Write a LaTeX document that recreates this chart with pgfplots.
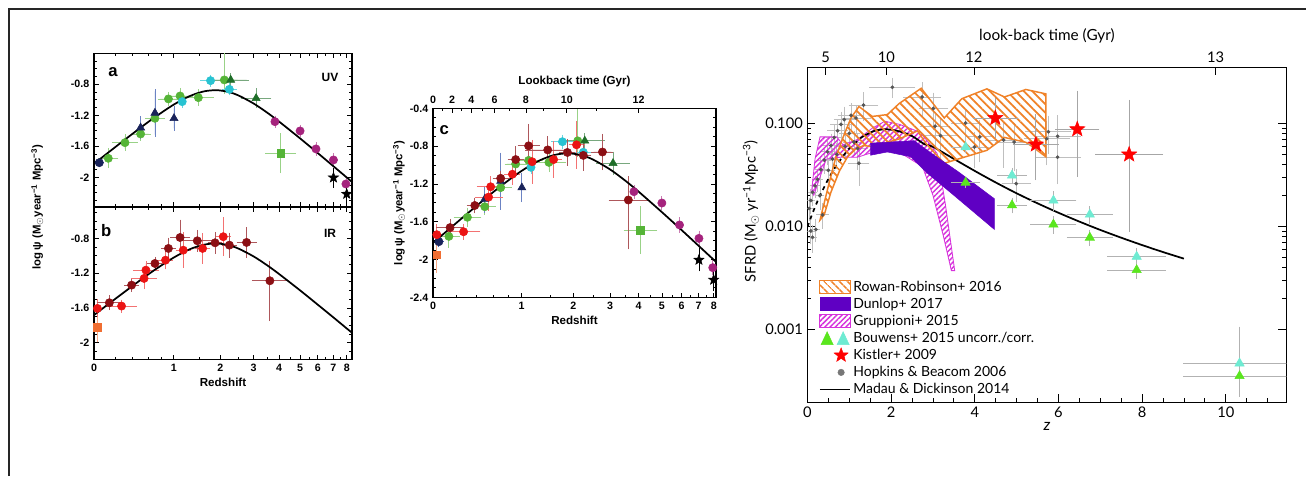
\documentclass[border=0pt]{standalone}
\usepackage{pgfplots}
\pgfplotsset{compat=1.18}
\usepackage{fontspec}
\setmainfont{Liberation Sans}
\newfontfamily\lato{Lato}
\usetikzlibrary{patterns.meta}

\definecolor{uvgreen}{RGB}{85,180,55}
\definecolor{uvcyan}{RGB}{40,195,210}
\definecolor{uvnavy}{RGB}{25,35,90}
\definecolor{uvblue}{RGB}{70,100,180}
\definecolor{uvdgreen}{RGB}{30,110,40}
\definecolor{uvmag}{RGB}{165,35,125}
\definecolor{irred}{RGB}{235,20,20}
\definecolor{irdred}{RGB}{140,15,20}
\definecolor{irorange}{RGB}{240,110,50}
\definecolor{rrorange}{RGB}{240,130,40}
\definecolor{dpurple}{RGB}{95,0,195}
\definecolor{gmag}{RGB}{215,50,220}
\definecolor{bgreen}{RGB}{90,230,30}
\definecolor{bcyan}{RGB}{110,235,210}
\definecolor{hbgray}{RGB}{85,85,85}

\pgfdeclareplotmark{fstar}{%
 \pgfpathmoveto{\pgfpointpolar{90}{\pgfplotmarksize}}%
 \pgfpathlineto{\pgfpointpolar{126}{0.42\pgfplotmarksize}}%
 \pgfpathlineto{\pgfpointpolar{162}{\pgfplotmarksize}}%
 \pgfpathlineto{\pgfpointpolar{198}{0.42\pgfplotmarksize}}%
 \pgfpathlineto{\pgfpointpolar{234}{\pgfplotmarksize}}%
 \pgfpathlineto{\pgfpointpolar{270}{0.42\pgfplotmarksize}}%
 \pgfpathlineto{\pgfpointpolar{306}{\pgfplotmarksize}}%
 \pgfpathlineto{\pgfpointpolar{342}{0.42\pgfplotmarksize}}%
 \pgfpathlineto{\pgfpointpolar{18}{\pgfplotmarksize}}%
 \pgfpathlineto{\pgfpointpolar{54}{0.42\pgfplotmarksize}}%
 \pgfpathclose\pgfusepathqfillstroke}

\pgfplotsset{
  eb/.style={error bars/x dir=both, error bars/x explicit, error bars/y dir=both, error bars/y explicit,
     error bars/error bar style={#1, line width=0.6pt},
     error bars/error mark options={#1, mark size=1.6pt, line width=0.6pt}},
  lp/.style={scale only axis, xmin=0, axis line style={line width=0.8pt},
    tick align=inside, major tick length=3.5pt, minor tick length=2pt,
    tick style={line width=0.6pt, black},
    xtick={0,0.30103,0.47712,0.60206,0.69897,0.77815,0.84510,0.90309,0.95424},
    minor xtick={0.0792,0.1461,0.2041,0.2553,0.3979,0.5441,0.6532,0.7404,0.8129,0.8751,0.9294},
    ytick={-2.4,-2,-1.6,-1.2,-0.8,-0.4},
    minor ytick={-2.3,-2.2,-2.1,-1.9,-1.8,-1.7,-1.5,-1.4,-1.3,-1.1,-1.0,-0.9,-0.7,-0.6,-0.5},
    ticklabel style={font=\bfseries\fontsize{8}{9.5}\selectfont},
    every axis plot/.append style={forget plot}},
  circ/.style={only marks, mark=*, mark size=3.1pt, draw=#1, fill=#1},
  tri/.style={only marks, mark=triangle*, mark size=3.5pt, draw=#1, fill=#1},
  sq/.style={only marks, mark=square*, mark size=2.8pt, draw=#1, fill=#1},
  mdcurve/.style={black, line width=1.3pt, smooth, no marks},
}

\newcommand\uvdata{%
\addplot[circ=uvgreen, eb=uvgreen!60] coordinates {(0.054,-1.755) +- (0.03,0.10) (0.117,-1.553) +- (0.04,0.08) (0.176,-1.441) +- (0.03,0.06) (0.230,-1.239) +- (0.03,0.08) (0.281,-0.989) +- (0.03,0.06) (0.325,-0.951) +- (0.04,0.07) (0.394,-0.972) +- (0.05,0.08) (0.492,-0.744) += (0.05,0.42) -= (0.05,0.15)};
\addplot[sq=uvgreen, eb=uvgreen!60] coordinates {(0.705,-1.690) +- (0.05,0.23)};
\addplot[tri=uvnavy, eb=uvblue!80] coordinates {(0.302,-1.239) +- (0,0.13) (0.230,-1.17) +- (0,0.28) (0.176,-1.36) +- (0,0.12)};
\addplot[circ=uvnavy, eb=uvblue] coordinates {(0.020,-1.811) +- (0.01,0.03)};
\addplot[circ=uvcyan, eb=uvcyan!70] coordinates {(0.333,-1.024) +- (0,0.05) (0.440,-0.753) +- (0.03,0.05) (0.511,-0.865) +- (0.02,0.05)};
\addplot[tri=uvdgreen, eb=uvdgreen!60] coordinates {(0.516,-0.744) +- (0.06,0.06) (0.612,-0.981) +- (0.05,0.10)};
\addplot[circ=uvmag, eb=uvmag!60] coordinates {(0.683,-1.282) +- (0,0.05) (0.778,-1.402) +- (0,0.05) (0.838,-1.634) +- (0,0.06) (0.904,-1.776) +- (0,0.06) (0.951,-2.086) +- (0,0.06)};
\addplot[only marks, mark=fstar, mark size=4pt, black, eb=black] coordinates {(0.904,-2.004) +- (0,0.10) (0.954,-2.215) +- (0,0.10)};
}

\begin{document}
\begin{tikzpicture}
\useasboundingbox (0,0) rectangle (979.5pt,357pt);
\fill[white] (0,0) rectangle (979.5pt,357pt);
\draw[black!85, line width=1.5pt] (6.75pt,0pt) -- (6.75pt,350.25pt) -- (979.5pt,350.25pt);

% ---------- panel a (UV)
\begin{axis}[lp, at={(70.5pt,201.75pt)}, anchor=south west, width=193.5pt, height=115.3pt,
  xmax=0.974, ymin=-2.383, ymax=-0.4, xticklabels={},
  yticklabels={,-2,-1.6,-1.2,-0.8,},
  ylabel={\bfseries log\,ψ (M\textsubscript{$\odot$}year\textsuperscript{−1} Mpc\textsuperscript{−3})},
  every axis y label/.style={at={(axis description cs:-0.22,0)}, rotate=90, anchor=center, font=\bfseries\fontsize{8.5}{10}\selectfont}]
\uvdata
\addplot[mdcurve] coordinates {(0,-1.825) (0.04139,-1.714) (0.07918,-1.6132) (0.11394,-1.5211) (0.17609,-1.3592) (0.23045,-1.2230) (0.30103,-1.0622) (0.36173,-0.9521) (0.41497,-0.8918) (0.46240,-0.8764) (0.50515,-0.8970) (0.54407,-0.9423) (0.60206,-1.0469) (0.65321,-1.1644) (0.69897,-1.2817) (0.77815,-1.4985) (0.84510,-1.6882) (0.90309,-1.8550) (0.95424,-2.0026) (0.97313,-2.0571)};
\node[font=\bfseries\fontsize{12.5}{14}\selectfont] at (rel axis cs:0.074,0.878) {a};
\node[font=\bfseries\fontsize{9}{10}\selectfont] at (rel axis cs:0.915,0.84) {UV};
\end{axis}

% ---------- panel b (IR)
\begin{axis}[lp, at={(70.5pt,87.5pt)}, anchor=south west, width=193.5pt, height=114.2pt,
  xmax=0.974, ymin=-2.191, ymax=-0.439,
  xticklabels={0,1,2,3,4,5,6,7,8},
  yticklabels={,-2,-1.6,-1.2,-0.8,},
  xlabel={Redshift}, xlabel style={font=\bfseries\fontsize{8.7}{10}\selectfont, yshift=2pt}]
\addplot[sq=irorange, eb=irorange!60] coordinates {(0.013,-1.82) +- (0,0.15)};
\addplot[circ=irred, eb=irred!60] coordinates {(0.013,-1.605) +- (0.01,0.08) (0.104,-1.578) +- (0.05,0.05) (0.189,-1.26) +- (0.04,0.10) (0.196,-1.165) +- (0.04,0.08) (0.27,-1.05) +- (0.02,0.08) (0.337,-0.935) +- (0.02,0.18) (0.41,-0.915) +- (0.02,0.15) (0.488,-0.78) +- (0.02,0.20)};
\addplot[circ=irdred, eb=irdred!70] coordinates {(0.058,-1.54) +- (0.04,0.06) (0.142,-1.337) +- (0.02,0.05) (0.23,-1.088) +- (0.02,0.05) (0.281,-0.915) +- (0.02,0.10) (0.325,-0.789) +- (0.03,0.18) (0.39,-0.827) +- (0.07,0.10) (0.457,-0.85) +- (0.02,0.10) (0.511,-0.877) +- (0.02,0.12) (0.576,-0.846) +- (0.03,0.15) (0.664,-1.287) += (0.06,0.20) -= (0.06,0.44)};
\addplot[mdcurve] coordinates {(0,-1.682) (0.04139,-1.585) (0.07918,-1.498) (0.11394,-1.418) (0.17609,-1.277) (0.23045,-1.159) (0.30103,-1.020) (0.36173,-0.924) (0.41497,-0.872) (0.46240,-0.858) (0.50515,-0.876) (0.54407,-0.915) (0.60206,-1.006) (0.65321,-1.108) (0.69897,-1.210) (0.77815,-1.398) (0.84510,-1.563) (0.90309,-1.707) (0.95424,-1.836) (0.97313,-1.883)};
\node[font=\bfseries\fontsize{12.5}{14}\selectfont] at (rel axis cs:0.047,0.849) {b};
\node[font=\bfseries\fontsize{9}{10}\selectfont] at (rel axis cs:0.915,0.83) {IR};
\end{axis}

% ---------- panel c (UV+IR)
\begin{axis}[lp, at={(324.75pt,134.0pt)}, anchor=south west, width=212.25pt, height=141.75pt,
  xmax=0.962, ymin=-2.4, ymax=-0.4, xtick pos=bottom,
  xticklabels={0,1,2,3,4,5,6,7,8},
  yticklabels={-2.4,-2,-1.6,-1.2,-0.8,-0.4},
  xlabel={Redshift}, xlabel style={font=\bfseries\fontsize{8.7}{10}\selectfont, yshift=2pt},
  ylabel={\bfseries log\,ψ (M\textsubscript{$\odot$}year\textsuperscript{−1} Mpc\textsuperscript{−3})},
  every axis y label/.style={at={(axis description cs:-0.12,0.5)}, rotate=90, anchor=center, font=\bfseries\fontsize{8.5}{10}\selectfont}]
\addplot[sq=irorange, eb=irorange!60] coordinates {(0.013,-1.95) +- (0,0.17)};
\uvdata
\addplot[circ=irred, eb=irred!60] coordinates {(0.013,-1.737) +- (0.01,0.09) (0.104,-1.706) +- (0.05,0.06) (0.189,-1.339) +- (0.04,0.12) (0.196,-1.230) +- (0.04,0.09) (0.27,-1.097) +- (0.02,0.09) (0.337,-0.965) +- (0.02,0.21) (0.41,-0.942) +- (0.02,0.17) (0.488,-0.786) +- (0.02,0.23)};
\addplot[circ=irdred, eb=irdred!70] coordinates {(0.058,-1.662) +- (0.04,0.07) (0.142,-1.428) +- (0.02,0.06) (0.23,-1.141) +- (0.02,0.06) (0.281,-0.942) +- (0.02,0.12) (0.325,-0.797) +- (0.03,0.21) (0.39,-0.840) +- (0.07,0.12) (0.457,-0.867) +- (0.02,0.12) (0.511,-0.898) +- (0.02,0.14) (0.576,-0.862) +- (0.03,0.17) (0.664,-1.37) += (0.06,0.23) -= (0.06,0.50)};
\addplot[mdcurve] coordinates {(0,-1.825) (0.04139,-1.714) (0.07918,-1.6132) (0.11394,-1.5211) (0.17609,-1.3592) (0.23045,-1.2230) (0.30103,-1.0622) (0.36173,-0.9521) (0.41497,-0.8918) (0.46240,-0.8764) (0.50515,-0.8970) (0.54407,-0.9423) (0.60206,-1.0469) (0.65321,-1.1644) (0.69897,-1.2817) (0.77815,-1.4985) (0.84510,-1.6882) (0.90309,-1.8550) (0.95424,-2.0026) (0.97313,-2.0571)};
\node[font=\bfseries\fontsize{12.5}{14}\selectfont] at (rel axis cs:0.04,0.885) {c};
\end{axis}
\begin{axis}[scale only axis, at={(324.75pt,134.0pt)}, anchor=south west, width=212.25pt, height=141.75pt,
  xmin=0, xmax=0.962, ymin=0, ymax=1, axis y line=none, axis x line*=top,
  axis line style={line width=0.8pt}, tick align=inside, major tick length=3.5pt, minor tick length=2pt,
  tick style={line width=0.6pt, black},
  xtick={0,0.0645,0.130,0.2095,0.316,0.4548,0.699}, xticklabels={0,2,4,6,8,10,12},
  minor xtick={0.0314,0.097,0.167,0.260,0.375,0.556},
  ticklabel style={font=\bfseries\fontsize{8}{9.5}\selectfont},
  xlabel={Lookback time (Gyr)}, xlabel style={font=\bfseries\fontsize{8.7}{10}\selectfont}]
\end{axis}

% ---------- right panel
\begin{axis}[scale only axis, at={(605.6pt,55.3pt)}, anchor=south west, width=359.2pt, height=251.25pt,
  xmin=0, xmax=11.45, ymode=log, ymin=1.94e-4, ymax=0.352,
  axis line style={line width=0.8pt}, tick align=inside, major tick length=6pt, minor tick length=3pt,
  tick style={line width=0.6pt, black}, xtick pos=bottom,
  xtick={0,2,4,6,8,10}, xticklabels={0,2,4,6,8,10}, minor xtick={0.5,1,...,11},
  ytick={0.001,0.01,0.1}, yticklabels={0.001,0.010,0.100},
  ticklabel style={font=\lato\fontsize{11}{13}\selectfont},
  xlabel={\textit{z}}, xlabel style={font=\lato\fontsize{12}{13}\selectfont, yshift=3pt},
  ylabel={SFRD (M\textsubscript{$\odot$} yr\textsuperscript{−1}Mpc\textsuperscript{−3})},
  every axis y label/.style={at={(axis description cs:-0.118,0.57)}, rotate=90, anchor=center, font=\lato\fontsize{11}{13}\selectfont},
  legend style={at={(rel axis cs:0.015,0.005)}, anchor=south west, draw=none, fill=none,
     font=\lato\fontsize{10.5}{12}\selectfont, row sep=0.6pt, nodes={inner sep=1.5pt}},
  legend cell align=left]
\addlegendimage{legend image code/.code={\draw[draw=rrorange, line width=0.8pt, pattern={Lines[angle=-45,distance=4pt,line width=1.3pt]}, pattern color=rrorange] (0pt,-4.8pt) rectangle (23pt,4.8pt);}}
\addlegendentry{Rowan-Robinson+ 2016}
\addlegendimage{legend image code/.code={\fill[dpurple] (0pt,-4.8pt) rectangle (23pt,4.8pt);}}
\addlegendentry{Dunlop+ 2017}
\addlegendimage{legend image code/.code={\draw[draw=gmag, line width=0.6pt, pattern={Lines[angle=45,distance=2.8pt,line width=1.1pt]}, pattern color=gmag] (0pt,-4.8pt) rectangle (23pt,4.8pt);}}
\addlegendentry{Gruppioni+ 2015}
\addlegendimage{legend image code/.code={\fill[bgreen] (1pt,-4.8pt) -- (10pt,-4.8pt) -- (5.5pt,4.8pt) -- cycle; \fill[bcyan] (13pt,-4.8pt) -- (22pt,-4.8pt) -- (17.5pt,4.8pt) -- cycle;}}
\addlegendentry{Bouwens+ 2015 uncorr./corr.}
\addlegendimage{legend image code/.code={\draw[red, fill=red] plot[mark=fstar, mark size=5.5pt] coordinates {(16pt,0pt)};}}
\addlegendentry{Kistler+ 2009}
\addlegendimage{legend image code/.code={\fill[hbgray!80] (16pt,0pt) circle (2.4pt);}}
\addlegendentry{Hopkins \& Beacom 2006}
\addlegendimage{legend image code/.code={\draw[black, line width=1.3pt] (0pt,0pt) -- (23pt,0pt);}}
\addlegendentry{Madau \& Dickinson 2014}

% Hopkins & Beacom points
\addplot[forget plot, only marks, mark=*, mark size=1.2pt, hbgray, eb={gray!50}] coordinates {
(0.04,0.0149) +- (0.03,0.003) (0.08,0.0178) +- (0.04,0.004) (0.08,0.0090) +- (0.04,0.002) (0.12,0.0078) +- (0.05,0.002)
(0.12,0.0214) +- (0.05,0.005) (0.18,0.0247) +- (0.06,0.005) (0.20,0.0093) +- (0.06,0.002) (0.24,0.0286) +- (0.08,0.006)
(0.32,0.0355) +- (0.1,0.008) (0.36,0.0129) +- (0.1,0.003) (0.40,0.044) +- (0.1,0.01) (0.48,0.053) +- (0.1,0.012)
(0.56,0.061) +- (0.15,0.015) (0.64,0.073) +- (0.15,0.02) (0.72,0.085) +- (0.2,0.02) (0.80,0.098) +- (0.2,0.025)
(0.88,0.109) +- (0.2,0.03) (1.04,0.120) +- (0.25,0.03) (1.11,0.066) +- (0.2,0.015) (1.16,0.113) +- (0.3,0.03)
(1.2,0.057) +- (0.2,0.02) (1.23,0.041) +- (0.2,0.015) (1.34,0.151) +- (0.3,0.04) (2.03,0.225) +- (0.5,0.04)
(2.74,0.181) +- (0.4,0.06) (3.01,0.140) +- (0.3,0.05) (3.05,0.094) +- (0.3,0.03) (3.18,0.076) +- (0.4,0.03)
(3.78,0.101) +- (0.3,0.03) (3.99,0.059) +- (0.3,0.02) (4.12,0.074) +- (0.3,0.03) (4.69,0.069) +- (0.4,0.03)
(4.94,0.066) +- (0.4,0.03) (4.99,0.026) +- (0.3,0.008) (5.72,0.071) +- (0.5,0.03) (5.76,0.083) +- (0.5,0.03)
(5.98,0.075) +- (0.5,0.04) (5.98,0.047) +- (0.5,0.02) (0.5,0.035) +- (0.1,0.008) (0.6,0.045) +- (0.1,0.01)
(0.7,0.05) +- (0.1,0.012) (0.9,0.06) +- (0.15,0.015) (1.0,0.08) +- (0.2,0.02) (0.3,0.02) +- (0.05,0.005)};
% Gruppioni
\addplot[forget plot, draw=gmag, line width=0.6pt, pattern={Lines[angle=45,distance=2.8pt,line width=1.1pt]}, pattern color=gmag] coordinates {
(0.10,0.022) (0.18,0.045) (0.30,0.074) (0.70,0.074) (0.85,0.062) (1.2,0.07) (1.55,0.09) (1.85,0.105) (2.2,0.098) (2.7,0.082) (3.1,0.051) (3.3,0.016) (3.52,0.0037) (3.44,0.0037) (3.25,0.008) (3.0,0.02) (2.75,0.038) (2.39,0.047) (2.0,0.058) (1.6,0.053) (1.2,0.047) (0.8,0.047) (0.45,0.045) (0.3,0.03) (0.15,0.02)} -- cycle;
% Madau & Dickinson
\addplot[forget plot, black, line width=1.3pt, dashed, smooth, no marks] coordinates {(0,0.00987) (0.1,0.01274) (0.2,0.01608) (0.3,0.01988) (0.5,0.02886) (0.7,0.03947) (1.0,0.05722) (1.3,0.07372)};
\addplot[forget plot, black, line width=1.3pt, smooth, no marks] coordinates {(1.3,0.07372) (1.6,0.08468) (1.9,0.08771) (2.2,0.08369) (2.5,0.07537) (2.8,0.06274) (3.0,0.05927) (3.5,0.04521) (4.0,0.03452) (4.5,0.02667) (5.0,0.02092) (5.5,0.01671) (6.0,0.01353) (6.5,0.01110) (7.0,0.00921) (7.5,0.00774) (8.0,0.00656) (8.5,0.00561) (9.0,0.00484)};
% Rowan-Robinson
\addplot[forget plot, draw=rrorange, line width=1.1pt, pattern={Lines[angle=-45,distance=4.5pt,line width=1.3pt]}, pattern color=rrorange] coordinates {
(0.30,0.0115) (0.50,0.0247) (0.68,0.0474) (0.88,0.0787) (1.04,0.113) (1.23,0.146) (1.55,0.117) (1.91,0.122) (2.19,0.156) (2.72,0.220) (3.27,0.113) (3.69,0.174) (4.29,0.217) (4.71,0.181) (5.22,0.214) (5.70,0.194) (5.70,0.0474) (5.39,0.0589) (5.22,0.0656) (4.71,0.0731) (4.29,0.0548) (3.27,0.041) (2.84,0.0634) (2.63,0.0846) (2.19,0.0706) (1.91,0.0656) (1.59,0.0589) (1.35,0.061) (1.16,0.0569) (0.96,0.0474) (0.76,0.0342) (0.56,0.0214) (0.40,0.0129)} -- cycle;
% Dunlop
\addplot[forget plot, fill=dpurple, draw=dpurple] coordinates {
(1.51,0.0491) (1.51,0.0643) (2.55,0.068) (3.0,0.05) (3.6,0.034) (4.47,0.0185) (4.47,0.0093) (3.6,0.0185) (2.86,0.033) (2.47,0.0474) (1.91,0.0528)} -- cycle;
% Bouwens
\addplot[forget plot, only marks, mark=triangle*, mark size=4pt, bcyan, eb={gray!60}] coordinates {
(3.78,0.0589) +- (0.3,0.005) (4.89,0.0312) +- (0.3,0.004) (5.88,0.0178) +- (0.5,0.003) (6.75,0.0130) +- (0.5,0.002) (7.87,0.00506) +- (0.65,0.0008) (10.33,0.000464) += (1.3,0.00054) -= (1.3,0.0002)};
\addplot[forget plot, only marks, mark=triangle*, mark size=4pt, bgreen, eb={gray!60}] coordinates {
(3.78,0.0266) +- (0.3,0.002) (4.89,0.0160) +- (0.3,0.002) (5.88,0.0104) +- (0.5,0.0015) (6.75,0.00776) +- (0.5,0.001) (7.87,0.00375) +- (0.65,0.0005) (10.33,0.000349) +- (1.3,0.00012)};
% Kistler
\addplot[forget plot, only marks, mark=fstar, mark size=6pt, red, eb={gray!70}] coordinates {
(4.49,0.113) += (0.49,0.057) -= (0.49,0.038) (5.46,0.0624) += (0.5,0.055) -= (0.5,0.033) (6.45,0.0878) += (0.48,0.110) -= (0.48,0.056) (7.69,0.0499) += (0.76,0.112) -= (0.76,0.0406)};
\end{axis}
\begin{axis}[scale only axis, at={(605.6pt,55.3pt)}, anchor=south west, width=359.2pt, height=251.25pt,
  xmin=0, xmax=11.45, ymin=0, ymax=1, axis y line=none, axis x line*=top,
  axis line style={line width=0.8pt}, tick align=inside, major tick length=6pt,
  tick style={line width=0.6pt, black},
  xtick={0.435,1.887,3.98,9.76}, xticklabels={5,10,12,13},
  ticklabel style={font=\lato\fontsize{11}{13}\selectfont},
  xlabel={look-back time (Gyr)}, xlabel style={font=\lato\fontsize{11.5}{13}\selectfont}]
\end{axis}
\end{tikzpicture}
\end{document}
